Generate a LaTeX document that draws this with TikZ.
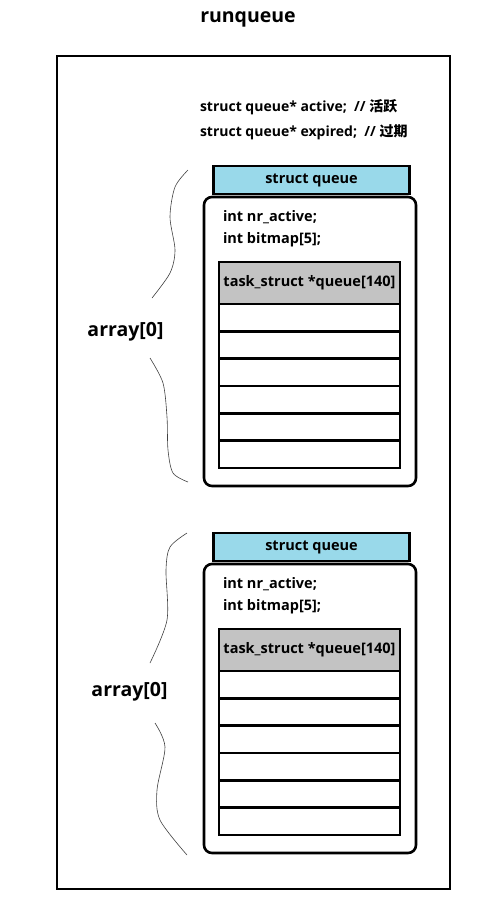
\documentclass[tikz,border=0pt]{standalone}
\usepackage{fontspec}
\setmainfont{Open Sans}
\newfontfamily\cjk{Noto Sans CJK SC}
\definecolor{qblue}{HTML}{99D9EA}
\definecolor{qgray}{HTML}{C3C3C3}
\begin{document}
\begin{tikzpicture}[x=1pt,y=-1pt,
  every node/.style={inner sep=0pt, outer sep=0pt},
  hdr/.style={draw, line width=2.6pt, fill=qblue, minimum width=196pt, minimum height=28pt, font=\bfseries\fontsize{14.5}{17}\selectfont},
  qbox/.style={draw, line width=2.6pt, rounded corners=8pt, minimum width=212pt, minimum height=289pt},
  cell/.style={draw, line width=2.6pt, minimum width=181pt, minimum height=27.33pt},
  code/.style={font=\bfseries\fontsize{14.5}{17}\selectfont, anchor=west},
  top/.style={font=\bfseries\fontsize{14}{17}\selectfont, anchor=west},
  lbl/.style={font=\bfseries\fontsize{19.5}{23}\selectfont},
  brace/.style={draw=black!75, line width=0.6pt},
]
\useasboundingbox (0,0) rectangle (500,903);
\node[font=\bfseries\fontsize{19.5}{23}\selectfont] (title) at (248,19) {runqueue};
\node[draw, line width=1.8pt, minimum width=393pt, minimum height=833pt, anchor=north west] (rq) at (57,56) {};
\node[top] (act) at (200,107) {struct queue* active;\ \ // {\cjk 活跃}};
\node[top] (exp) at (200,132) {struct queue* expired;\ \ // {\cjk 过期}};
\foreach \o/\n/\lx/\ly in {0/A/125.5/332, 367/B/129.5/692} {
  \node[qbox, anchor=north west] (box\n) at (204,{197+\o}) {};
  \node[hdr, anchor=north west] (hd\n) at (213.5,{166+\o}) {struct queue};
  \node[code] (nr\n) at (223,{217+\o}) {int nr\_active;};
  \node[code] (bm\n) at (223,{240+\o}) {int bitmap[5];};
  \node[cell, fill=qgray, minimum height=42pt, anchor=north west, font=\bfseries\fontsize{14.5}{17}\selectfont] (c\n0) at (219,{262+\o}) {task\_struct *queue[140]};
  \foreach \k [count=\j from 0] in {1,...,6} {
    \node[cell, anchor=north] (c\n\k) at (c\n\j.south) {};
  }
  \node[lbl] (arr\n) at (\lx,\ly) {array[0]};
}
\draw[brace] plot[smooth] coordinates {(188,170) (175,187) (170,217) (175,250) (170,273) (152,298)};
\draw[brace] plot[smooth] coordinates {(150,358) (163,383) (167,417) (168,450) (173,473) (188,482)};
\draw[brace] plot[smooth] coordinates {(187,533) (170,547) (166,570) (167,620) (150,663)};
\draw[brace] plot[smooth] coordinates {(155,723) (165,747) (157,790) (160,820) (187,855)};
\end{tikzpicture}
\end{document}
